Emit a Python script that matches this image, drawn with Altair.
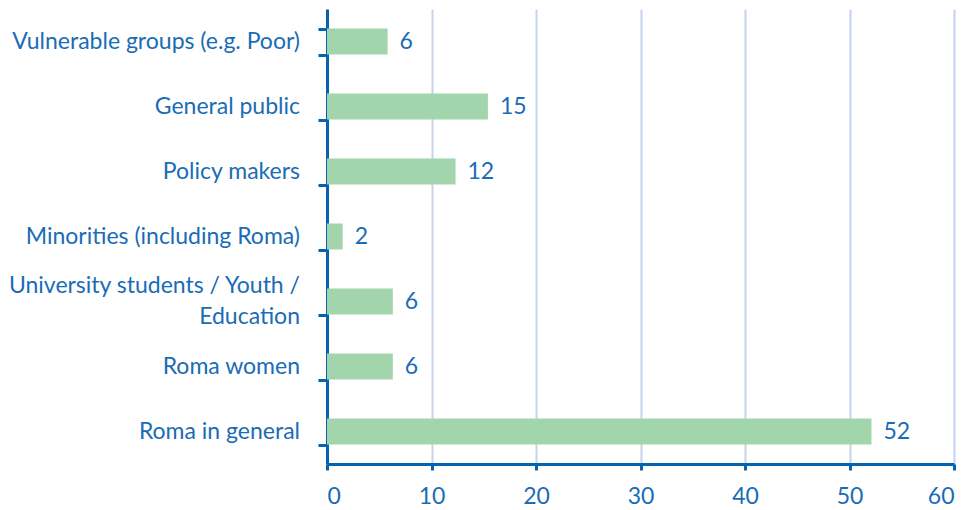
import altair as alt
import pandas as pd

categories = [
    "Vulnerable groups (e.g. Poor)",
    "General public",
    "Policy makers",
    "Minorities (including Roma)",
    "University students / Youth /|Education",
    "Roma women",
    "Roma in general",
]
bar_values = [5.8, 15.4, 12.3, 1.5, 6.3, 6.3, 52.1]
label_values = [6, 15, 12, 2, 6, 6, 52]
x_ticks = [0, 10, 20, 30, 40, 50, 60]

df = pd.DataFrame({"cat": categories, "val": bar_values, "lab": label_values})

AXIS_BLUE = "#0763b0"
TEXT_BLUE = "#1a6cb6"
FONT = "Lato"
FS = 23
LH = 31

y_scale = alt.Scale(paddingInner=0.6, paddingOuter=0.3)

y_enc = alt.Y(
    "cat:N",
    sort=categories,
    title=None,
    scale=y_scale,
    axis=alt.Axis(
        tickBand="extent",
        domainColor=AXIS_BLUE,
        domainWidth=3,
        tickColor=AXIS_BLUE,
        tickWidth=3,
        tickSize=9,
        labels=False,
        grid=False,
    ),
)

x_enc = alt.X(
    "val:Q",
    title=None,
    scale=alt.Scale(domain=[0, 60], nice=False),
    axis=alt.Axis(
        values=x_ticks,
        domainColor=AXIS_BLUE,
        domainWidth=3,
        tickColor=AXIS_BLUE,
        tickWidth=3,
        tickSize=6,
        labelPadding=15,
        labelFont=FONT,
        labelFontSize=FS,
        labelColor=TEXT_BLUE,
        grid=True,
        gridColor="#c8d2ee",
        gridWidth=2,
    ),
)

bars = alt.Chart(df).mark_bar(color="#a3d5ad").encode(y=y_enc, x=x_enc)
texts = alt.Chart(df).mark_text(
    align="left", baseline="middle", dx=12, fontSize=FS, font=FONT, color=TEXT_BLUE
).encode(y=alt.Y("cat:N", sort=categories), x="val:Q", text="lab:Q")

label_style = dict(align="right", baseline="middle", fontSize=FS, font=FONT,
                   color=TEXT_BLUE, lineBreak="|", lineHeight=LH)
single_labels = alt.Chart(df).transform_filter(
    "indexof(datum.cat, '|') < 0"
).mark_text(**label_style).encode(
    y=alt.Y("cat:N", sort=categories), x=alt.value(-27), text="cat:N"
)
multi_labels = alt.Chart(df).transform_filter(
    "indexof(datum.cat, '|') >= 0"
).mark_text(dy=-LH / 2, **label_style).encode(
    y=alt.Y("cat:N", sort=categories), x=alt.value(-27), text="cat:N"
)

chart = (
    alt.layer(bars, texts, single_labels, multi_labels)
    .properties(
        width=627,
        height=455,
        autosize=alt.AutoSizeParams(type="none"),
        padding={"left": 319, "top": 1, "right": 12, "bottom": 46},
    )
    .configure_view(stroke=None)
)

chart.save("out.html", embed_options={"renderer": "svg", "actions": False})
